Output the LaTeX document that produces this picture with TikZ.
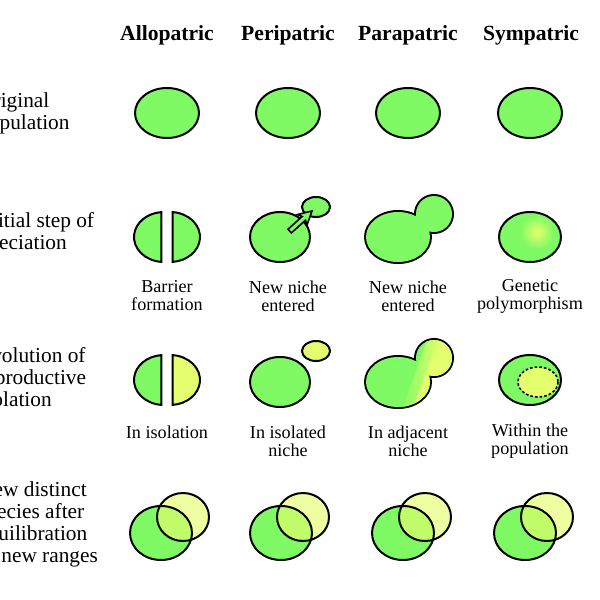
\documentclass[tikz,border=0pt]{standalone}
\usepackage{fontspec}
\setmainfont{Liberation Serif}
\usetikzlibrary{arrows.meta}
\definecolor{grn}{RGB}{128,250,100}
\definecolor{ylw}{RGB}{228,255,110}
\tikzset{
  pop/.style={draw=black, line width=1.5pt, fill=grn},
  title/.style={font=\bfseries\fontsize{16.2}{19}\selectfont},
  rowlabel/.style={anchor=north west, align=left, font=\fontsize{16}{16.5}\selectfont, inner sep=0pt},
  caption/.style={align=center, font=\fontsize{13.6}{13.5}\selectfont, inner sep=0pt}
}
\begin{document}
\begin{tikzpicture}[x=0.75pt,y=-0.75pt]
\useasboundingbox (0,0) rectangle (600,600);
\clip (0,0) rectangle (600,600);

% column titles
\node[title] (allo) at (167,35) {Allopatric};
\node[title] (peri) at (288,35) {Peripatric};
\node[title] (para) at (408,35) {Parapatric};
\node[title] (symp) at (531,35) {Sympatric};

% row labels
\node[rowlabel] (orig) at (-22,92) {Original\\population};
\node[rowlabel] (init) at (-20,212) {Initial step of\\speciation};
\node[rowlabel] (evol) at (-22,347) {Evolution of\\reproductive\\isolation};
\node[rowlabel] (newsp) at (-22,481) {New distinct\\species after\\equilibration\\of new ranges};

% row 1
\foreach \cx in {167,288,408,530}
  \draw[pop] (\cx,113) ellipse[x radius=32,y radius=25];

% row 2
\draw[pop] (164,237) ++(95:30 and 25) arc[start angle=95,end angle=265,x radius=30,y radius=25] -- cycle;
\draw[pop] (170,237) ++(-85:30 and 25) arc[start angle=-85,end angle=85,x radius=30,y radius=25] -- cycle;
\draw[pop] (280,237) ellipse[x radius=30,y radius=25];
\draw[pop] (316,207) ellipse[x radius=14,y radius=10];
\draw[pop, line width=1.2pt, rotate around={42:(312,211)}]
  (312,211) -- (299,218) -- (301,213.5) -- (282,213.5) -- (282,208.5)
  -- (301,208.5) -- (299,204) -- cycle;
\draw[line width=3pt] (398,237) ellipse[x radius=32,y radius=25] (434,214) circle[radius=18];
\fill[grn] (398,237) ellipse[x radius=32,y radius=25] (434,214) circle[radius=18];
\begin{scope}
  \clip (530,237) ellipse[x radius=31,y radius=25];
  \fill[grn] (480,200) rectangle (580,280);
  \shade[inner color=ylw, outer color=grn] (537,232) circle[radius=17];
\end{scope}
\draw[line width=1.5pt] (530,237) ellipse[x radius=31,y radius=25];

\node[caption] (barrier) at (167,296) {Barrier\\formation};
\node[caption] (niche1) at (288,296) {New niche\\entered};
\node[caption] (niche2) at (408,296) {New niche\\entered};
\node[caption] (poly) at (530,296) {Genetic\\polymorphism};

% row 3
\draw[pop] (164,380) ++(95:30 and 25) arc[start angle=95,end angle=265,x radius=30,y radius=25] -- cycle;
\draw[pop, fill=ylw] (170,380) ++(-85:30 and 25) arc[start angle=-85,end angle=85,x radius=30,y radius=25] -- cycle;
\draw[pop] (280,382) ellipse[x radius=30,y radius=25];
\draw[pop, fill=ylw] (316,351) ellipse[x radius=14,y radius=10];
\draw[line width=3pt] (398,382) ellipse[x radius=32,y radius=25] (434,358) circle[radius=18];
\begin{scope}
  \clip (398,382) ellipse[x radius=32,y radius=25] (434,358) circle[radius=18];
  \fill[grn] (360,330) rectangle (460,410);
  \begin{scope}[rotate around={-20:(423,372)}]
    \shade[left color=grn, right color=ylw] (416,320) rectangle (426,420);
    \fill[ylw] (426,320) rectangle (480,420);
  \end{scope}
\end{scope}
\draw[pop] (530,380) ellipse[x radius=31,y radius=25];
\draw[fill=ylw, line width=1.2pt, dash pattern=on 2pt off 1.5pt] (538,382) ellipse[x radius=20,y radius=15];

\node[caption] (isol) at (167,441) {In isolation\\\phantom{x}};
\node[caption] (isoniche) at (288,441) {In isolated\\niche};
\node[caption] (adjniche) at (408,441) {In adjacent\\niche};
\node[caption] (within) at (530,441) {Within the\\population};

% row 4
\foreach \cx in {161,281,403,525} {
  \fill[grn] (\cx,533) ellipse[x radius=31,y radius=27];
  \fill[ylw, fill opacity=0.65] (\cx+22,517) ellipse[x radius=26,y radius=24];
  \draw[line width=1.5pt] (\cx,533) ellipse[x radius=31,y radius=27]
    (\cx+22,517) ellipse[x radius=26,y radius=24];
}
\end{tikzpicture}
\end{document}
